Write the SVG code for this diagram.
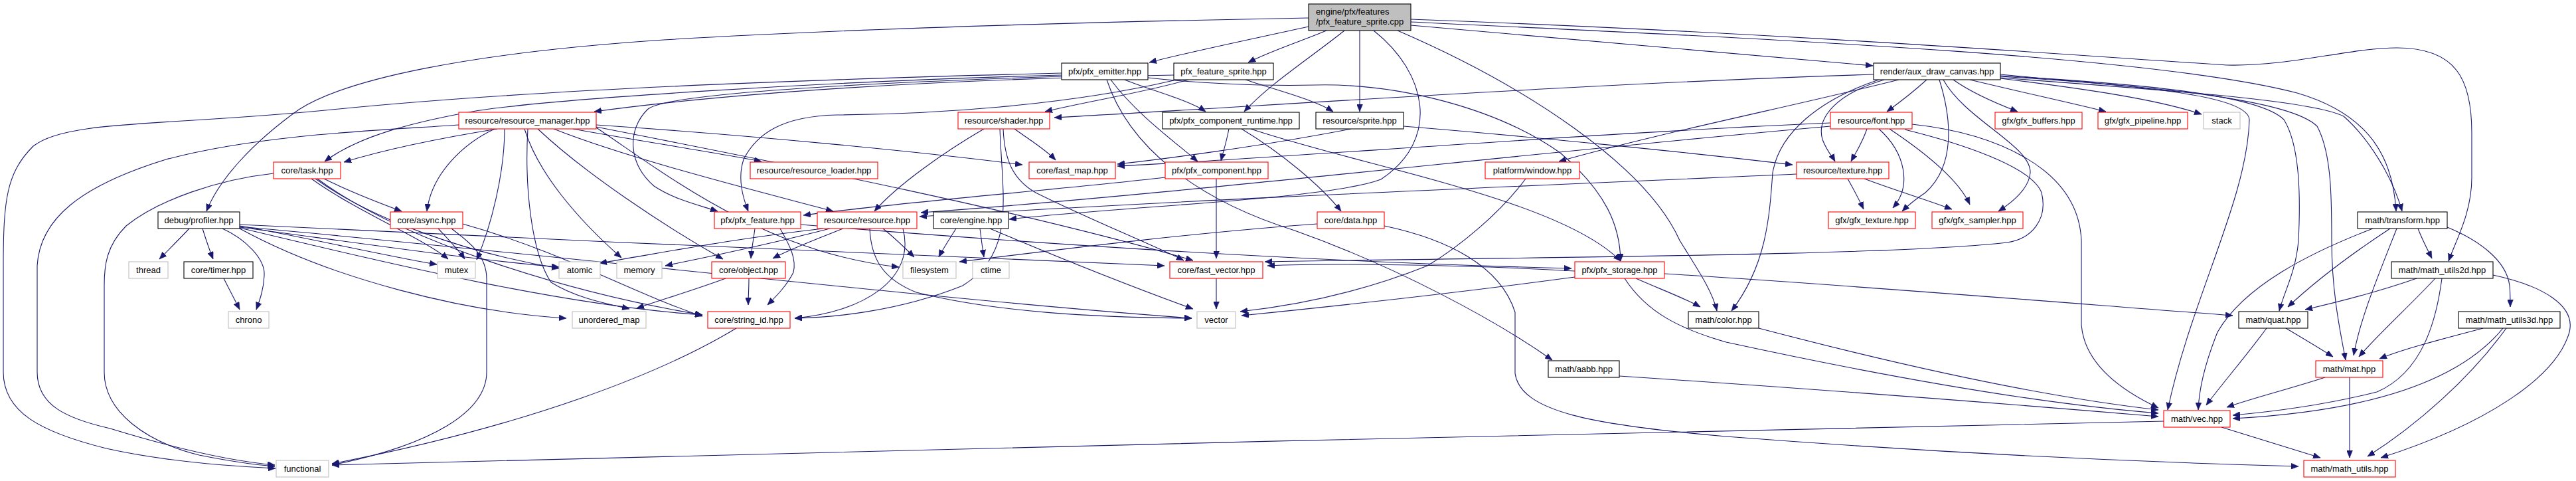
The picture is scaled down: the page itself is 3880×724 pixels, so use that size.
<svg xmlns="http://www.w3.org/2000/svg" width="3880" height="724" viewBox="0 0 3880 724">
<style>
.e path{fill:none;stroke:#191970;stroke-width:1.1;marker-end:url(#a)}
.n rect{fill:#fff;stroke-width:1.1}
.k rect{stroke:#000}
.r rect{stroke:#ff0000}
.g rect{stroke:#bfbfbf}
text{font-family:"Liberation Sans",Arial,sans-serif;font-size:13px;fill:#000;text-anchor:middle}
</style>
<defs>
<marker id="a" markerWidth="11" markerHeight="9" refX="11" refY="4.5" orient="auto" markerUnits="userSpaceOnUse"><path d="M0,0 L11,4.5 L0,9 z" fill="#191970" stroke="#191970" stroke-width="0.5"/></marker>
</defs>
<rect width="3880" height="724" fill="#fff"/>
<g id="edges" class="e">
<path d="M1971,40 C1890,58 1800,76 1731,94"/>
<path d="M1998,46 C1960,62 1915,76 1880,94"/>
<path d="M2025,46 C1975,86 1910,128 1874,168"/>
<path d="M2048,46 C2048,90 2048,130 2048,168"/>
<path d="M2125,38 C2400,62 2650,82 2821,99"/>
<path d="M2125,33 C2700,60 3250,85 3460,140 C3580,175 3605,250 3609,318"/>
<path d="M2125,29 C2700,50 3150,85 3354,98 C3450,100 3540,72 3610,72 C3700,72 3723,120 3723,200 L3723,267 C3723,320 3700,360 3688,393"/>
<path d="M2105,46 C2300,130 2480,250 2530,362 C2560,410 2580,440 2586,468"/>
<path d="M2069,46 C2150,110 2170,210 2080,270 C2000,300 1700,310 1520,330"/>
<path d="M1971,27 C1700,32 1300,42 1000,60 C700,80 520,120 450,165 C380,215 330,270 311,318"/>
<path d="M1599,110 C1200,120 800,135 500,165 C250,190 100,180 50,220 C10,260 5,300 5,400 L5,560 C5,620 60,650 160,675 C250,695 350,702 415,705"/>
<path d="M1599,113 C1250,122 800,150 700,170 C620,185 540,205 489,243"/>
<path d="M1599,115 C1300,125 1000,140 975,165 C945,195 945,245 985,280 C1015,300 1050,308 1081,318"/>
<path d="M1694,120 C1730,135 1790,150 1816,168"/>
<path d="M1673,120 C1710,170 1765,210 1804,243"/>
<path d="M1729,117 C1800,125 1900,130 1980,128 C2100,125 2250,160 2350,230 C2420,290 2440,340 2441,393"/>
<path d="M1667,120 C1700,220 1800,300 1950,347 C2100,400 2250,480 2338,542"/>
<path d="M1768,113 C1400,120 1100,140 895,168"/>
<path d="M1790,120 C1720,140 1640,152 1574,168"/>
<path d="M1876,120 C1920,135 1980,150 2008,168"/>
<path d="M1768,121 C1600,160 1400,172 1260,173 C1180,175 1140,200 1120,240 C1110,270 1120,300 1127,318"/>
<path d="M2822,112 C2400,125 1900,160 1588,177"/>
<path d="M2902,120 C2880,140 2860,155 2842,168"/>
<path d="M2942,120 C2970,140 3005,155 3039,168"/>
<path d="M2967,120 C3050,140 3120,155 3172,168"/>
<path d="M3013,118 C3150,135 3250,150 3316,172"/>
<path d="M2838,120 C2770,140 2735,175 2745,210 C2752,228 2760,236 2764,243"/>
<path d="M2921,120 C2940,180 2945,250 2900,290 C2885,300 2875,308 2865,318"/>
<path d="M2927,120 C2960,180 3060,220 3058,260 C3056,285 3030,305 3010,318"/>
<path d="M2860,120 C2700,160 2500,200 2348,243"/>
<path d="M2830,120 C2740,150 2680,200 2670,260 C2665,330 2660,400 2608,468"/>
<path d="M3013,112 C3200,130 3385,140 3388,180 C3385,300 3300,450 3265,617"/>
<path d="M3013,114 C3200,125 3400,140 3440,180 C3465,220 3465,300 3462,362 C3458,410 3440,440 3433,468"/>
<path d="M3013,115 C3250,130 3450,150 3490,190 C3512,230 3512,300 3512,362 C3512,440 3525,500 3533,542"/>
<path d="M3013,117 C3250,135 3480,150 3530,175 C3570,210 3605,270 3618,318"/>
<path d="M749,194 C650,210 580,225 518,244"/>
<path d="M745,194 C700,215 650,260 643,318"/>
<path d="M863,194 C950,210 1080,230 1147,243"/>
<path d="M834,194 C950,240 1150,290 1255,318"/>
<path d="M898,188 C1150,205 1400,230 1540,248"/>
<path d="M691,188 C600,195 400,200 250,240 C120,280 60,330 56,400 L56,560 C56,610 100,630 166,645 C280,680 360,695 414,700"/>
<path d="M760,194 C760,260 740,340 718,391"/>
<path d="M790,194 C810,260 870,330 936,388"/>
<path d="M810,194 C880,260 1000,340 1089,390"/>
<path d="M795,194 C790,280 800,380 830,425 C870,450 920,458 948,465"/>
<path d="M898,192 C1000,260 1150,380 1354,402"/>
<path d="M898,191 C1200,250 1550,320 1797,392"/>
<path d="M1528,194 C1550,210 1575,225 1590,241"/>
<path d="M1482,194 C1420,230 1350,280 1317,318"/>
<path d="M1511,194 C1513,240 1525,270 1560,290 C1640,330 1740,370 1783,392"/>
<path d="M1506,194 C1510,300 1530,380 1450,430 C1350,470 1250,478 1197,479"/>
<path d="M1851,194 C1847,215 1842,230 1839,242"/>
<path d="M1870,194 C1930,230 1990,280 2020,318"/>
<path d="M1884,194 C2050,250 2350,300 2441,393"/>
<path d="M2035,194 C1900,220 1750,240 1683,247"/>
<path d="M2114,190 C2300,205 2550,230 2700,248"/>
<path d="M2757,185 C2400,200 1900,240 1683,250"/>
<path d="M2757,190 C2300,230 1800,290 1387,320"/>
<path d="M2812,194 C2805,215 2795,230 2788,243"/>
<path d="M2830,194 C2870,230 2880,280 2851,313"/>
<path d="M2846,194 C2900,230 2950,270 2967,308"/>
<path d="M2869,195 C2950,215 3060,250 3075,290 C3085,330 3060,360 3023,365 C2850,385 2300,387 1905,394"/>
<path d="M2880,187 C3000,200 3130,250 3135,362 L3135,489 C3140,550 3200,590 3251,614"/>
<path d="M488,269 C530,290 570,305 605,318"/>
<path d="M412,261 C330,270 240,300 190,340 C160,370 157,400 157,430 L157,560 C157,620 220,665 300,685 C350,695 390,700 414,702"/>
<path d="M469,269 C540,320 640,360 675,390"/>
<path d="M475,269 C560,330 700,380 842,404"/>
<path d="M478,269 C600,360 850,440 1058,474"/>
<path d="M660,344 C675,360 690,375 700,390"/>
<path d="M697,337 C850,380 950,440 1058,476"/>
<path d="M680,344 C700,360 733,380 733,420 L733,560 C733,620 650,670 500,700"/>
<path d="M285,344 C270,360 255,375 240,390"/>
<path d="M305,344 C310,360 315,375 321,390"/>
<path d="M335,344 C370,360 400,390 398,415 C397,435 392,450 386,466"/>
<path d="M361,340 C450,355 580,385 658,398"/>
<path d="M361,342 C500,360 700,390 842,402"/>
<path d="M361,344 C500,420 700,470 853,479"/>
<path d="M361,343 C600,400 850,460 1058,474"/>
<path d="M361,338 C800,360 1400,385 1754,400"/>
<path d="M361,341 C800,380 1400,450 1795,479"/>
<path d="M1137,344 C1135,360 1132,375 1131,389"/>
<path d="M1175,344 C1190,370 1200,390 1195,410 C1185,430 1170,445 1156,459"/>
<path d="M1206,338 C1600,370 2000,395 2367,404"/>
<path d="M1240,344 C1100,360 1000,380 903,396"/>
<path d="M1250,344 C1150,370 1050,390 1002,400"/>
<path d="M1270,344 C1230,360 1190,375 1164,389"/>
<path d="M1330,344 C1350,360 1365,375 1377,387"/>
<path d="M1360,344 C1380,420 1300,470 1197,479"/>
<path d="M1310,344 C1312,390 1330,420 1380,440 C1500,470 1650,478 1795,479"/>
<path d="M1440,344 C1430,360 1420,375 1414,387"/>
<path d="M1476,344 C1478,360 1480,375 1482,387"/>
<path d="M1491,344 C1600,390 1700,430 1797,465"/>
<path d="M1984,337 C1800,350 1600,375 1445,394"/>
<path d="M2085,340 C2180,360 2260,400 2282,470 L2282,562 C2290,620 2400,640 2600,657 C2900,680 3200,695 3462,702"/>
<path d="M1755,267 C1600,285 1350,305 1210,324"/>
<path d="M1832,269 C1832,310 1832,350 1832,389"/>
<path d="M2706,262 C2300,280 1800,300 1385,326"/>
<path d="M2783,269 C2792,285 2800,300 2807,315"/>
<path d="M2808,269 C2850,285 2900,300 2940,315"/>
<path d="M2298,269 C2260,320 2200,370 2150,400 C2050,440 1950,460 1868,469"/>
<path d="M1832,419 C1832,435 1832,450 1832,465"/>
<path d="M1128,419 C1128,435 1127,447 1127,459"/>
<path d="M1093,419 C1050,435 1000,450 959,464"/>
<path d="M2464,419 C2500,435 2540,450 2561,462"/>
<path d="M2372,417 C2200,440 2000,462 1870,475"/>
<path d="M2372,408 C2200,398 2000,396 1909,400"/>
<path d="M2507,412 C2800,430 3100,455 3363,475"/>
<path d="M2447,419 C2480,470 2530,495 2600,515 C2900,580 3100,610 3251,622"/>
<path d="M2649,494 C2900,560 3100,600 3251,617"/>
<path d="M2439,566 C2800,590 3050,610 3251,627"/>
<path d="M3642,344 C3648,360 3656,375 3663,389"/>
<path d="M3600,344 C3530,390 3480,430 3446,462"/>
<path d="M3610,344 C3580,420 3555,480 3545,535"/>
<path d="M3686,342 C3730,360 3775,390 3780,430 C3781,440 3781,450 3781,462"/>
<path d="M3574,344 C3480,380 3380,430 3340,500 C3320,550 3312,590 3311,617"/>
<path d="M3640,419 C3580,440 3520,455 3472,466"/>
<path d="M3668,419 C3630,460 3585,500 3553,537"/>
<path d="M3678,419 C3670,480 3650,560 3580,590 C3500,610 3420,620 3363,625"/>
<path d="M3755,414 C3830,430 3880,460 3870,500 C3850,570 3740,640 3586,689"/>
<path d="M3740,494 C3680,510 3620,525 3584,540"/>
<path d="M3770,494 C3700,580 3550,620 3363,630"/>
<path d="M3775,494 C3720,570 3640,640 3566,687"/>
<path d="M3443,494 C3470,510 3495,525 3514,537"/>
<path d="M3414,494 C3380,540 3345,580 3323,610"/>
<path d="M3502,568 C3450,585 3390,600 3354,613"/>
<path d="M3539,568 C3539,610 3539,650 3539,689"/>
<path d="M3346,643 C3400,660 3450,675 3495,689"/>
<path d="M3259,634 C2500,650 1200,680 500,700"/>
<path d="M1109,494 C1000,560 800,640 500,698"/>
<path d="M337,419 C345,435 353,450 361,466"/>
</g>
<g id="root" class="n k"><rect x="1971" y="6" width="154" height="40" style="fill:#bfbfbf"/><text x="1982" y="22" style="text-anchor:start">engine/pfx/features</text><text x="1982" y="37" style="text-anchor:start">/pfx_feature_sprite.cpp</text></g>
<g id="pfx_emitter" class="n k"><rect x="1599" y="95" width="130" height="25"/><text x="1664" y="112">pfx/pfx_emitter.hpp</text></g>
<g id="pfx_feature_sprite_h" class="n k"><rect x="1768" y="95" width="150" height="25"/><text x="1843" y="112">pfx_feature_sprite.hpp</text></g>
<g id="aux_draw_canvas" class="n k"><rect x="2822" y="95" width="191" height="25"/><text x="2917.5" y="112">render/aux_draw_canvas.hpp</text></g>
<g id="resource_manager" class="n r"><rect x="691" y="169" width="207" height="25"/><text x="794.5" y="186">resource/resource_manager.hpp</text></g>
<g id="shader" class="n r"><rect x="1443" y="169" width="138" height="25"/><text x="1512" y="186">resource/shader.hpp</text></g>
<g id="pfx_component_runtime" class="n k"><rect x="1751" y="169" width="206" height="25"/><text x="1854" y="186">pfx/pfx_component_runtime.hpp</text></g>
<g id="sprite" class="n k"><rect x="1982" y="169" width="132" height="25"/><text x="2048" y="186">resource/sprite.hpp</text></g>
<g id="font" class="n r"><rect x="2757" y="169" width="123" height="25"/><text x="2818.5" y="186">resource/font.hpp</text></g>
<g id="gfx_buffers" class="n r"><rect x="3005" y="169" width="131" height="25"/><text x="3070.5" y="186">gfx/gfx_buffers.hpp</text></g>
<g id="gfx_pipeline" class="n r"><rect x="3160" y="169" width="135" height="25"/><text x="3227.5" y="186">gfx/gfx_pipeline.hpp</text></g>
<g id="stack" class="n g"><rect x="3319" y="169" width="55" height="25"/><text x="3346.5" y="186">stack</text></g>
<g id="task" class="n r"><rect x="412" y="244" width="101" height="25"/><text x="462.5" y="261">core/task.hpp</text></g>
<g id="resource_loader" class="n r"><rect x="1130" y="244" width="192" height="25"/><text x="1226" y="261">resource/resource_loader.hpp</text></g>
<g id="fast_map" class="n r"><rect x="1550" y="244" width="130" height="25"/><text x="1615" y="261">core/fast_map.hpp</text></g>
<g id="pfx_component" class="n r"><rect x="1755" y="244" width="155" height="25"/><text x="1832.5" y="261">pfx/pfx_component.hpp</text></g>
<g id="window" class="n r"><rect x="2237" y="244" width="142" height="25"/><text x="2308" y="261">platform/window.hpp</text></g>
<g id="texture" class="n r"><rect x="2706" y="244" width="139" height="25"/><text x="2775.5" y="261">resource/texture.hpp</text></g>
<g id="profiler" class="n k"><rect x="238" y="319" width="123" height="25"/><text x="299.5" y="336">debug/profiler.hpp</text></g>
<g id="async" class="n r"><rect x="588" y="319" width="109" height="25"/><text x="642.5" y="336">core/async.hpp</text></g>
<g id="pfx_feature" class="n r"><rect x="1076" y="319" width="130" height="25"/><text x="1141" y="336">pfx/pfx_feature.hpp</text></g>
<g id="resource" class="n r"><rect x="1231" y="319" width="150" height="25"/><text x="1306" y="336">resource/resource.hpp</text></g>
<g id="engine" class="n k"><rect x="1406" y="319" width="113" height="25"/><text x="1462.5" y="336">core/engine.hpp</text></g>
<g id="data" class="n r"><rect x="1984" y="319" width="101" height="25"/><text x="2034.5" y="336">core/data.hpp</text></g>
<g id="gfx_texture" class="n r"><rect x="2754" y="319" width="131" height="25"/><text x="2819.5" y="336">gfx/gfx_texture.hpp</text></g>
<g id="gfx_sampler" class="n r"><rect x="2910" y="319" width="137" height="25"/><text x="2978.5" y="336">gfx/gfx_sampler.hpp</text></g>
<g id="transform" class="n k"><rect x="3551" y="319" width="135" height="25"/><text x="3618.5" y="336">math/transform.hpp</text></g>
<g id="thread" class="n g"><rect x="194" y="394" width="59" height="25"/><text x="223.5" y="411">thread</text></g>
<g id="timer" class="n k"><rect x="277" y="394" width="104" height="25"/><text x="329" y="411">core/timer.hpp</text></g>
<g id="mutex" class="n g"><rect x="659" y="394" width="57" height="25"/><text x="687.5" y="411">mutex</text></g>
<g id="atomic" class="n g"><rect x="842" y="394" width="62" height="25"/><text x="873" y="411">atomic</text></g>
<g id="memory" class="n g"><rect x="929" y="394" width="68" height="25"/><text x="963" y="411">memory</text></g>
<g id="object" class="n r"><rect x="1072" y="394" width="111" height="25"/><text x="1127.5" y="411">core/object.hpp</text></g>
<g id="filesystem" class="n g"><rect x="1360" y="394" width="80" height="25"/><text x="1400" y="411">filesystem</text></g>
<g id="ctime" class="n g"><rect x="1465" y="394" width="55" height="25"/><text x="1492.5" y="411">ctime</text></g>
<g id="fast_vector" class="n r"><rect x="1762" y="394" width="140" height="25"/><text x="1832" y="411">core/fast_vector.hpp</text></g>
<g id="pfx_storage" class="n r"><rect x="2372" y="394" width="135" height="25"/><text x="2439.5" y="411">pfx/pfx_storage.hpp</text></g>
<g id="math_utils2d" class="n k"><rect x="3602" y="394" width="153" height="25"/><text x="3678.5" y="411">math/math_utils2d.hpp</text></g>
<g id="chrono" class="n g"><rect x="344" y="469" width="61" height="25"/><text x="374.5" y="486">chrono</text></g>
<g id="unordered_map" class="n g"><rect x="862" y="469" width="111" height="25"/><text x="917.5" y="486">unordered_map</text></g>
<g id="string_id" class="n r"><rect x="1066" y="469" width="124" height="25"/><text x="1128" y="486">core/string_id.hpp</text></g>
<g id="vector" class="n g"><rect x="1803" y="469" width="58" height="25"/><text x="1832" y="486">vector</text></g>
<g id="color" class="n k"><rect x="2543" y="469" width="106" height="25"/><text x="2596" y="486">math/color.hpp</text></g>
<g id="quat" class="n k"><rect x="3372" y="469" width="104" height="25"/><text x="3424" y="486">math/quat.hpp</text></g>
<g id="math_utils3d" class="n k"><rect x="3703" y="469" width="153" height="25"/><text x="3779.5" y="486">math/math_utils3d.hpp</text></g>
<g id="aabb" class="n k"><rect x="2332" y="543" width="107" height="25"/><text x="2385.5" y="560">math/aabb.hpp</text></g>
<g id="mat" class="n r"><rect x="3488" y="543" width="101" height="25"/><text x="3538.5" y="560">math/mat.hpp</text></g>
<g id="vec" class="n r"><rect x="3259" y="618" width="100" height="25"/><text x="3309" y="635">math/vec.hpp</text></g>
<g id="functional" class="n g"><rect x="416" y="693" width="79" height="25"/><text x="455.5" y="710">functional</text></g>
<g id="math_utils" class="n r"><rect x="3470" y="693" width="138" height="25"/><text x="3539" y="710">math/math_utils.hpp</text></g>
</svg>
